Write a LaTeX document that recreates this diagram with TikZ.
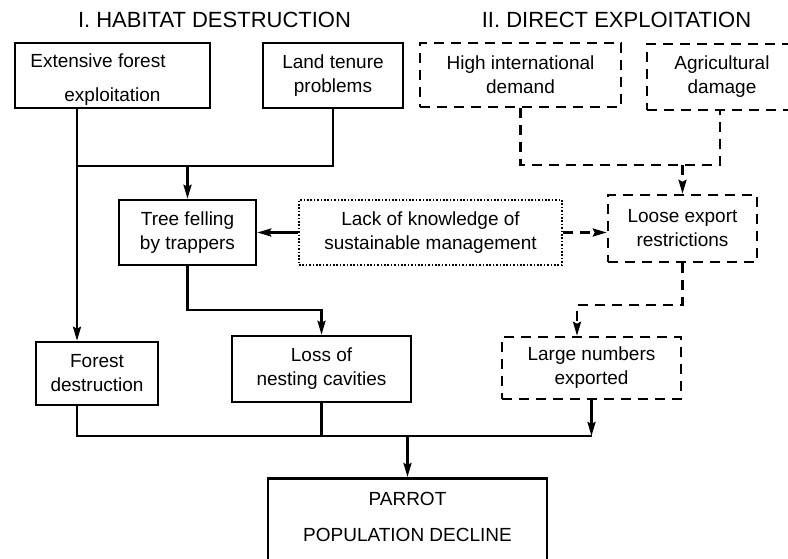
\documentclass[tikz,border=0pt]{standalone}
\usepackage{fontspec}
\setmainfont{Liberation Sans}
\usetikzlibrary{arrows.meta}
\begin{document}
\begin{tikzpicture}[x=1pt,y=-1pt,
  every node/.style={font=\fontsize{19}{24}\selectfont},
  box/.style={draw, line width=2.5pt, inner sep=0pt, align=center},
  dbox/.style={box, dash pattern=on 10pt off 7pt},
  obox/.style={box, line width=2pt, dash pattern=on 1.6pt off 1.8pt},
  conn/.style={line width=2.5pt},
  dconn/.style={conn, dash pattern=on 10pt off 7pt},
  arr/.style={-{Stealth[length=14pt,width=8pt,inset=2pt]}},
  title/.style={font=\fontsize{22}{26}\selectfont}
]
\useasboundingbox (0,0) rectangle (788,558);
\fill[white] (0,0) rectangle (788,558);

\node[title] (t1) at (214.5,20) {I. HABITAT DESTRUCTION};
\node[title] (t2) at (616.5,20) {II. DIRECT EXPLOITATION};

\node[box, minimum width=195pt, minimum height=65pt] (ext) at (112.5,75.5) {};
\node[align=left] (extT) at (98,79.5) {Extensive forest\\[10pt]\hspace*{34pt}exploitation};
\node[box, minimum width=140pt, minimum height=65pt] (land) at (333,75.5) {Land tenure\\problems};
\node[dbox, minimum width=201pt, minimum height=64pt] (high) at (520.5,75) {High international\\demand};
\node[dbox, minimum width=150pt, minimum height=66pt] (agri) at (722,77) {Agricultural\\damage};
\node[box, minimum width=137pt, minimum height=65pt] (tree) at (187.5,232.5) {Tree felling\\by trappers};
\node[obox, minimum width=263pt, minimum height=65pt] (lack) at (430.5,232.5) {Lack of knowledge of\\sustainable management};
\node[dbox, minimum width=149pt, minimum height=67pt] (loose) at (682.5,228.5) {Loose export\\restrictions};
\node[box, minimum width=122pt, minimum height=63pt] (forest) at (97,373.5) {Forest\\destruction};
\node[box, minimum width=179pt, minimum height=66pt] (loss) at (321.5,369) {Loss of\\nesting cavities};
\node[dbox, minimum width=179pt, minimum height=62pt] (large) at (591.5,368) {Large numbers\\exported};
\node[box, minimum width=279pt, minimum height=110pt, anchor=north] (parrot) at (407.5,477) {};
\node[align=center] (parrotT) at (407.5,516.5) {PARROT\\[12pt]POPULATION DECLINE};

\coordinate (c1) at (77,0);
\coordinate (j1) at (77,166);
\draw[conn,arr] (ext.south -| c1) -- (forest.north -| c1);
\draw[conn] (land.south) |- (j1);
\draw[conn,arr] (tree.north |- j1) -- (tree.north);
\coordinate (j2) at (321.5,310);
\draw[conn,arr] (tree.south) |- (j2) -- (loss.north);
\draw[conn,arr] (lack.west) -- (tree.east);
\draw[dconn,arr] (lack.east) -- (lack.east -| loose.west);
\coordinate (j3) at (720,165);
\draw[dconn] (high.south) |- (j3) -- (agri.south -| j3);
\draw[dconn,arr] (loose.north |- j3) -- (loose.north);
\coordinate (j4) at (577,305);
\draw[dconn,arr] (loose.south) |- (j4) -- (large.north -| j4);
\coordinate (j5) at (0,436);
\draw[conn] (forest.south -| c1) |- (large.south |- j5);
\draw[conn] (loss.south) -- (loss.south |- j5);
\draw[conn,arr] (large.south) -- (large.south |- j5);
\draw[conn,arr] (parrot.north |- j5) -- (parrot.north);
\end{tikzpicture}
\end{document}
